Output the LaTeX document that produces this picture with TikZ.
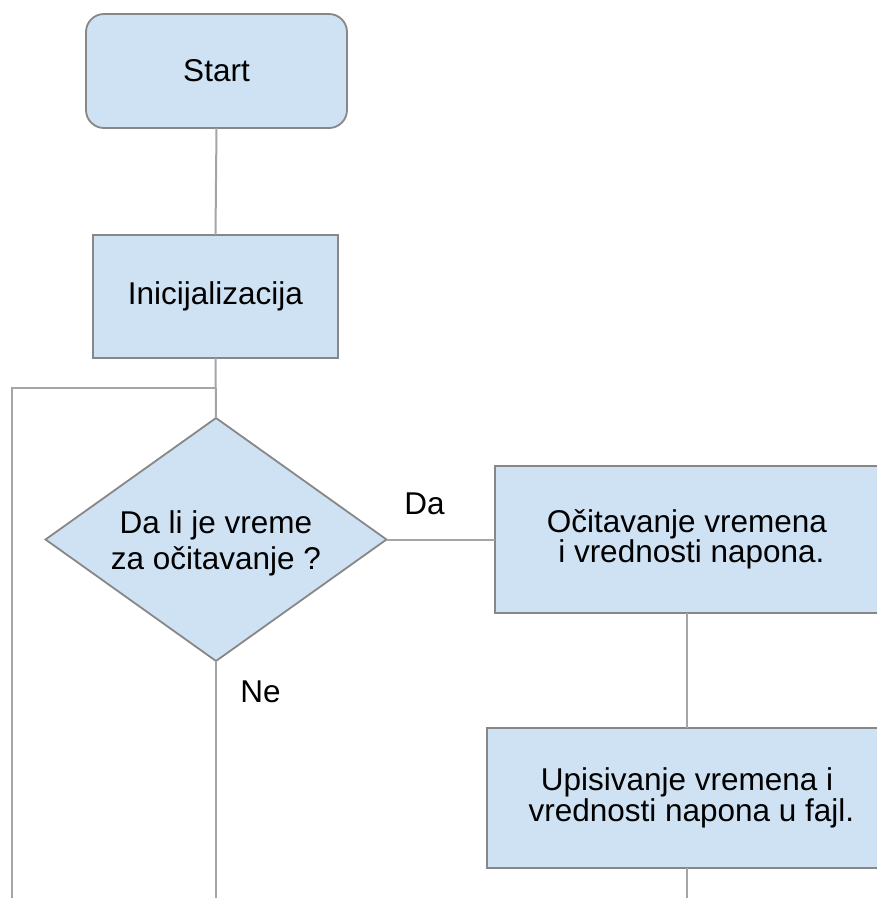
\documentclass[tikz,border=0pt]{standalone}
\usepackage{fontspec}
\setmainfont{Liberation Sans}
\usetikzlibrary{shapes.geometric}
\definecolor{boxfill}{RGB}{207,226,243}
\definecolor{boxline}{RGB}{135,135,135}
\definecolor{conline}{RGB}{165,165,165}
\begin{document}
\begin{tikzpicture}[x=1pt,y=-1pt,
  every node/.style={inner sep=0pt,outer sep=0pt,align=center},
  txt/.style={font=\fontsize{31.5}{36}\selectfont},
  block/.style={txt,draw=boxline,line width=1.8pt,fill=boxfill,rectangle},
  startbox/.style={block,rounded corners=18pt},
  decision/.style={draw=boxline,line width=1.8pt,fill=boxfill,diamond},
  conn/.style={draw=conline,line width=2pt}]
\useasboundingbox (0,0) rectangle (877,898);
\clip (0,0) rectangle (877,898);
\node[startbox,minimum width=261pt,minimum height=114pt] (start) at (216.5,71) {Start};
\node[block,minimum width=245pt,minimum height=123pt] (init) at (215.5,296.5) {Inicijalizacija};
\node[decision,minimum width=341pt,minimum height=243pt] (dec) at (216,539.5) {};
\node[txt] (dectxt) at (216,543) {Da li je vreme\\za očitavanje ?};
\node[block,minimum width=384pt,minimum height=147pt,font=\fontsize{31.5}{28}\selectfont] (read) at (687,539.5) {Očitavanje vremena\\\ i vrednosti napona.};
\node[block,minimum width=400pt,minimum height=140pt,font=\fontsize{31.5}{29}\selectfont] (write) at (687,798) {Upisivanje vremena i\\\ vrednosti napona u fajl.};
\node[txt] (da) at (424.5,504) {Da};
\node[txt] (ne) at (260.5,691.5) {Ne};
\coordinate (join) at (216,388);
\coordinate (loopend) at (12,898);
\coordinate (decend) at (216,898);
\coordinate (writeend) at (687,898);
\path[conn] (start.south) -- (init.north);
\path[conn] (init.south) -- (dec.north);
\path[conn] (loopend) |- (join);
\path[conn] (dec.east) -- (read.west);
\path[conn] (dec.south) -- (decend);
\path[conn] (read.south) -- (write.north);
\path[conn] (write.south) -- (writeend);
\end{tikzpicture}
\end{document}
